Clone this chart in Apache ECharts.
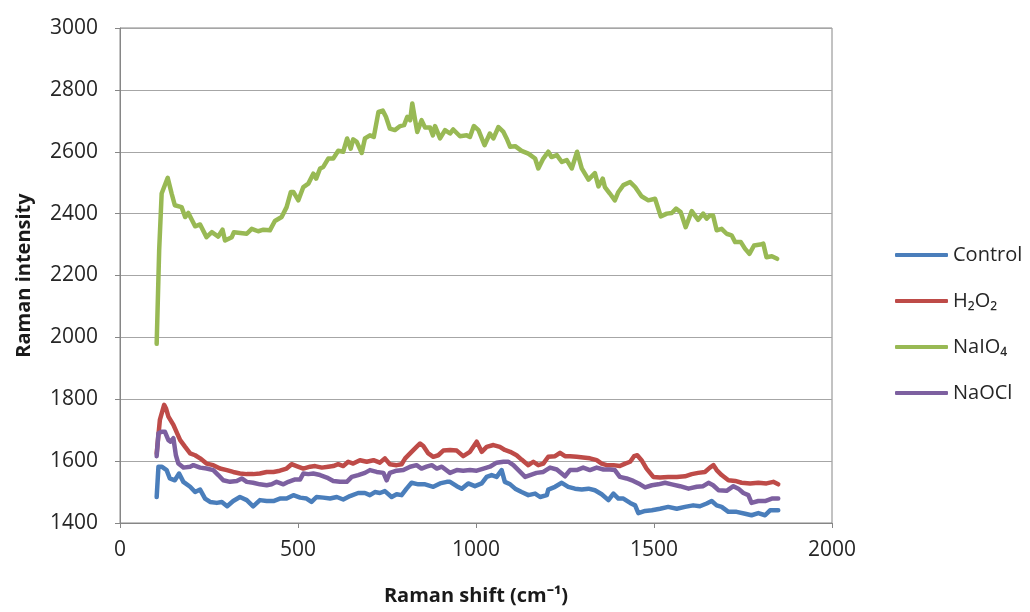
<!DOCTYPE html>
<html>
<head>
<meta charset="utf-8">
<script src="https://cdn.jsdelivr.net/npm/echarts@6/dist/echarts.min.js"></script>
<style>
html,body{margin:0;padding:0;background:#fff;}
#chart{width:1030px;height:612px;}
</style>
</head>
<body>
<div id="chart"></div>
<script>
// Series names
const seriesNames = ['Control', 'H\u2082O\u2082', 'NaIO\u2084', 'NaOCl'];
const seriesColors = ['#4a7ebb', '#be4b48', '#98b954', '#7d60a0'];

// Axis ticks
const yTicks = [1400, 1600, 1800, 2000, 2200, 2400, 2600, 2800, 3000];
const xTicks = [0, 500, 1000, 1500, 2000];

// Control
const controlX = [103,108,117,131,140,154,166,178,197,211,225,239,253,272,286,301,318,337,356,374,393,412,431,449,468,487,506,524,538,552,571,590,609,627,646,669,688,702,716,730,744,763,777,791,805,819,838,857,880,899,918,
  927,946,960,978,997,1016,1030,1044,1058,1072,1081,1096,1110,1128,1147,1166,1180,1199,1203,1222,1241,1259,1278,1297,1316,1334,1353,1372,1386,1400,1414,1433,1447,1456,1475,1494,1517,1540,1564,1587,1610,1629,1648,1662,1676,1690,1709,1732,1756,1774,1793,1812,1826,1849];
const controlY = [1484,1582,1582,1571,1544,1538,1560,1533,1517,1500,1508,1479,1468,1465,1468,1454,1471,1484,1474,1454,1474,1471,1471,1479,1479,1490,1482,1479,1468,1484,1482,1479,1484,1476,1487,1497,1497,1490,1500,1497,1503,1484,1493,1490,1511,1530,1525,1525,1517,1528,1533,
  1533,1519,1511,1528,1519,1528,1549,1555,1549,1571,1533,1525,1511,1500,1490,1495,1484,1490,1508,1517,1530,1517,1511,1508,1511,1506,1493,1474,1495,1479,1479,1465,1457,1432,1439,1441,1446,1452,1446,1452,1457,1454,1463,1471,1457,1452,1436,1436,1430,1425,1432,1425,1441,1441];

// H2O2
const h2o2X = [103,112,124,129,136,150,169,183,197,211,225,243,262,281,300,318,337,356,374,393,412,431,449,468,482,496,515,534,548,567,585,599,613,627,641,655,674,693,712,730,744,758,777,791,801,819,833,843,852,866,880,894,908,
  927,946,964,983,1002,1016,1030,1049,1067,1081,1096,1114,1128,1147,1161,1175,1189,1203,1222,1236,1250,1264,1283,1301,1320,1339,1353,1367,1386,1404,1419,1433,1444,1453,1465,1479,1498,1517,1540,1564,1587,1606,1624,1643,1657,1667,1676,1690,1709,1728,1746,1770,1793,1816,1835,1849];
const h2o2Y = [1625,1733,1782,1771,1744,1717,1668,1646,1625,1619,1609,1592,1587,1576,1571,1565,1560,1558,1558,1560,1565,1565,1569,1576,1590,1584,1576,1582,1584,1579,1582,1584,1590,1584,1598,1592,1603,1598,1603,1595,1609,1590,1587,1590,1609,1630,1646,1657,1649,1625,1614,1619,1634,
  1636,1634,1616,1630,1663,1630,1646,1652,1646,1636,1630,1619,1605,1587,1598,1587,1592,1614,1616,1627,1616,1616,1614,1612,1609,1603,1592,1587,1587,1584,1592,1598,1616,1619,1603,1576,1549,1547,1549,1549,1551,1558,1562,1565,1579,1587,1571,1555,1538,1536,1530,1528,1530,1528,1533,1525];

// NaIO4
const naio4X = [103,110,117,134,145,154,173,183,192,211,225,243,258,276,288,295,314,320,356,370,388,403,421,435,454,468,480,487,501,515,529,543,551,562,571,585,599,613,627,638,648,655,665,679,688,702,713,726,738,747,758,772,787,798,807,815,821,829,835,847,857,871,879,885,899,913,
  927,936,955,974,983,994,1007,1024,1039,1049,1063,1077,1086,1096,1110,1128,1147,1166,1175,1189,1203,1212,1227,1241,1255,1269,1284,1297,1316,1334,1344,1356,1362,1376,1390,1400,1414,1433,1447,1465,1484,1503,1519,1536,1550,1562,1575,1589,1606,1624,1638,1648,1657,1666,1676,1690,1704,1718,1728,1744,1756,1768,1781,1798,1807,1816,1831,1846];
const naio4Y = [1979,2281,2465,2516,2465,2427,2421,2389,2402,2359,2365,2324,2340,2326,2348,2313,2324,2340,2335,2351,2343,2348,2346,2376,2389,2421,2470,2470,2443,2486,2497,2529,2513,2546,2551,2578,2578,2603,2600,2643,2610,2640,2632,2596,2643,2653,2648,2729,2733,2713,2675,2670,2683,2686,2713,2702,2756,2702,2664,2702,2678,2678,2653,2683,2643,2670,
  2659,2672,2650,2653,2648,2683,2670,2621,2659,2643,2680,2664,2643,2616,2618,2603,2594,2578,2546,2578,2600,2583,2589,2567,2573,2546,2600,2546,2510,2531,2488,2513,2486,2465,2443,2470,2492,2502,2486,2456,2443,2448,2391,2400,2402,2416,2405,2356,2408,2380,2400,2384,2394,2394,2346,2351,2335,2330,2308,2308,2286,2270,2297,2300,2303,2259,2262,2254];

// NaOCl
const naoclX = [103,108,117,126,136,142,150,157,164,178,197,206,225,243,262,276,290,309,328,342,356,374,393,412,426,440,459,473,492,506,515,529,543,562,581,599,618,637,651,669,688,702,721,740,749,758,777,796,815,833,847,861,876,890,904,
  927,946,964,983,1002,1021,1039,1058,1077,1091,1105,1124,1138,1152,1170,1189,1208,1227,1250,1264,1283,1301,1320,1339,1358,1376,1390,1404,1423,1442,1461,1475,1494,1512,1531,1550,1573,1597,1620,1638,1653,1666,1681,1704,1723,1737,1751,1765,1774,1793,1812,1831,1849];
const naoclY = [1616,1690,1695,1695,1668,1663,1674,1619,1592,1579,1582,1587,1579,1576,1571,1555,1538,1533,1536,1544,1533,1530,1525,1522,1525,1533,1525,1533,1541,1541,1560,1558,1560,1555,1547,1536,1533,1533,1549,1555,1562,1571,1565,1562,1538,1562,1569,1571,1582,1587,1576,1582,1587,1576,1582,
  1562,1571,1569,1571,1569,1576,1582,1595,1598,1598,1587,1565,1549,1555,1562,1565,1579,1573,1551,1571,1571,1579,1571,1579,1573,1573,1571,1549,1544,1536,1525,1515,1522,1525,1530,1525,1519,1511,1517,1519,1530,1522,1506,1504,1519,1511,1497,1490,1465,1471,1471,1479,1479];

function zip(xs, ys) {
  const n = Math.min(xs.length, ys.length);
  const out = [];
  for (let i = 0; i < n; i++) out.push([xs[i], ys[i]]);
  return out;
}

const allX = [controlX, h2o2X, naio4X, naoclX];
const allY = [controlY, h2o2Y, naio4Y, naoclY];

const FONT = 'Open Sans';
const chart = echarts.init(document.getElementById('chart'), null, {renderer: 'canvas'});

chart.setOption({
  animation: false,
  backgroundColor: '#ffffff',
  textStyle: {fontFamily: FONT},
  grid: {
    left: 120, right: 198, top: 28, bottom: 89,
    show: true, borderColor: '#868686', borderWidth: 1, backgroundColor: 'transparent'
  },
  legend: {
    orient: 'vertical',
    left: 895,
    top: 245,
    padding: 0,
    icon: 'roundRect',
    itemWidth: 53,
    itemHeight: 4,
    itemGap: 26,
    data: seriesNames,
    textStyle: {fontFamily: FONT, fontSize: 20, color: '#262626', lineHeight: 20, padding: [0, 0, 0, 0]}
  },
  xAxis: {
    type: 'value',
    min: xTicks[0],
    max: xTicks[xTicks.length - 1],
    interval: xTicks[1] - xTicks[0],
    name: 'Raman shift (cm\u207B\u00B9)',
    nameLocation: 'middle',
    nameGap: 63,
    nameTextStyle: {fontFamily: FONT, fontSize: 20, fontWeight: 'bold', color: '#1a1a1a'},
    axisLine: {show: true, onZero: false, lineStyle: {color: '#868686', width: 1}},
    axisTick: {show: true, length: 5, inside: false, lineStyle: {color: '#868686'}},
    axisLabel: {fontFamily: FONT, fontSize: 21, color: '#262626', margin: 17, formatter: v => String(v)},
    splitLine: {show: false}
  },
  yAxis: {
    type: 'value',
    min: yTicks[0],
    max: yTicks[yTicks.length - 1],
    interval: yTicks[1] - yTicks[0],
    name: 'Raman intensity',
    nameLocation: 'middle',
    nameGap: 86,
    nameTextStyle: {fontFamily: FONT, fontSize: 20, fontWeight: 'bold', color: '#1a1a1a'},
    axisLine: {show: true, lineStyle: {color: '#868686', width: 1}},
    axisTick: {show: true, length: 5, inside: false, lineStyle: {color: '#868686'}},
    axisLabel: {fontFamily: FONT, fontSize: 21, color: '#262626', margin: 22, formatter: v => String(v)},
    splitLine: {show: true, lineStyle: {color: '#a6a6a6', width: 1}}
  },
  series: seriesNames.map((name, i) => ({
    name: name,
    type: 'line',
    data: zip(allX[i], allY[i]),
    showSymbol: false,
    symbol: 'none',
    smooth: false,
    color: seriesColors[i],
    itemStyle: {color: seriesColors[i]},
    lineStyle: {width: 4.5, color: seriesColors[i], cap: 'round', join: 'round'},
    z: [1, 2, 3, 4][i]
  }))
});
</script>
</body>
</html>
